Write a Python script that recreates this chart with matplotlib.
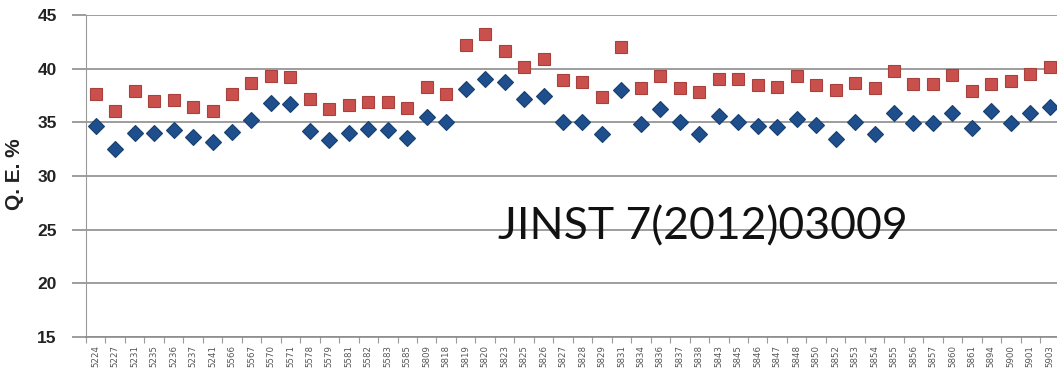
import matplotlib
matplotlib.use("Agg")
import matplotlib.pyplot as plt
import numpy as np

# PMT serial numbers along the category axis
pmt_ids = ["5224", "5227", "5231", "5235", "5236", "5237", "5241", "5566", "5567", "5570",
           "5571", "5578", "5579", "5581", "5582", "5583", "5585", "5809", "5818", "5819",
           "5820", "5823", "5825", "5826", "5827", "5828", "5829", "5831", "5834", "5836",
           "5837", "5838", "5843", "5845", "5846", "5847", "5848", "5850", "5852", "5853",
           "5854", "5855", "5856", "5857", "5860", "5861", "5894", "5900", "5901", "5903"]

# Quantum efficiency (%) for the two series
qe_red = [37.65, 36.04, 37.9, 36.97, 37.06, 36.45, 36.04, 37.65, 38.67, 39.35,
          39.2, 37.2, 36.2, 36.57, 36.87, 36.87, 36.35, 38.3, 37.68, 42.2,
          43.2, 41.67, 40.2, 40.93, 38.9, 38.73, 37.37, 42.0, 38.2, 39.35,
          38.2, 37.8, 39.07, 39.07, 38.5, 38.3, 39.29, 38.5, 38.05, 38.7,
          38.2, 39.75, 38.6, 38.6, 39.38, 37.9, 38.6, 38.82, 39.54, 40.12]
qe_blue = [34.63, 32.47, 34.0, 34.0, 34.32, 33.65, 33.18, 34.14, 35.25, 36.8,
           36.7, 34.2, 33.4, 34.0, 34.42, 34.32, 33.55, 35.46, 35.03, 38.1,
           39.04, 38.8, 37.2, 37.5, 35.03, 35.03, 33.94, 38.05, 34.88, 36.24,
           35.03, 33.94, 35.56, 35.03, 34.7, 34.54, 35.31, 34.73, 33.46, 35.03,
           33.94, 35.87, 34.94, 34.94, 35.87, 34.47, 36.1, 34.94, 35.87, 36.44]

y_ticks = [15, 20, 25, 30, 35, 40, 45]

fig = plt.figure(figsize=(10.57, 3.84), dpi=100)
ax = fig.add_axes([86 / 1057, 1 - 337 / 384, (1059.5 - 86) / 1057, (337 - 15) / 384])

x = np.arange(len(pmt_ids))
ax.plot(x, qe_red, linestyle="none", marker="s", markersize=9,
        markerfacecolor="#C9504D", markeredgecolor="#A8403C", markeredgewidth=0.8, zorder=3)
ax.plot(x, qe_blue, linestyle="none", marker="D", markersize=8,
        markerfacecolor="#1F4E8C", markeredgecolor="#17406F", markeredgewidth=0.8, zorder=3)

ax.set_xlim(-0.5, len(pmt_ids) - 0.5)
ax.set_ylim(15, 45)

ax.set_yticks(y_ticks)
ax.set_yticklabels([str(t) for t in y_ticks], fontsize=12.5, fontweight="bold",
                   family="Liberation Sans", color="#222222")
ax.yaxis.grid(True, color="#8c8c8c", linewidth=1.2)
ax.tick_params(axis="y", length=10, width=1.2, color="#8c8c8c", pad=11)

# category labels at centres, tick marks at boundaries
ax.set_xticks(x)
ax.set_xticklabels(pmt_ids, rotation=90, fontsize=6.2, color="#555555")
ax.tick_params(axis="x", which="major", length=0, pad=6)
ax.set_xticks(np.arange(-0.5, len(pmt_ids), 1), minor=True)
ax.tick_params(axis="x", which="minor", length=4, width=0.8, color="#9a9a9a")

for side in ["top", "right"]:
    ax.spines[side].set_visible(False)
ax.spines["left"].set_color("#9a9a9a")
ax.spines["bottom"].set_color("#8c8c8c")
ax.spines["bottom"].set_linewidth(1.2)
ax.set_axisbelow(True)

fig.text(15 / 1057, 1 - 174 / 384, "Q. E. %", rotation=90, fontsize=15, fontweight="bold",
         family="Liberation Sans", color="#222222", ha="center", va="center")

ax.text(0.423, 0.343, "JINST 7(2012)03009", transform=ax.transAxes, fontsize=32,
        family="Lato", fontweight="normal", color="#111111", ha="left", va="center")

fig.savefig("out.png", dpi=100)
